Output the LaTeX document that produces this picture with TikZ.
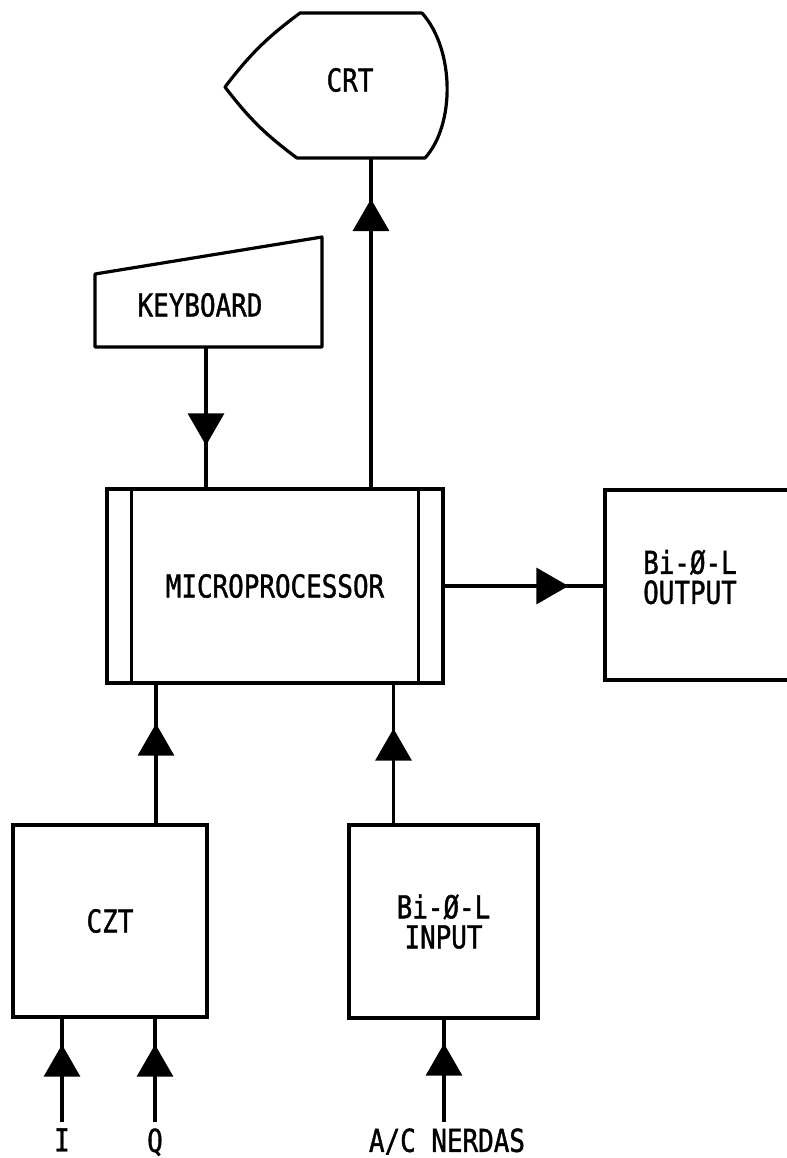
\documentclass[tikz,border=0pt]{standalone}
\usepackage{fontspec}
\newfontfamily\lettering[FakeStretch=0.82, FakeBold=1.2]{DejaVu Sans Mono}
\usepackage{tikz}
\usetikzlibrary{arrows.meta, decorations.markings}
\tikzset{
  box/.style={rectangle, draw, line width=1.6pt, align=center,
    font=\lettering\fontsize{15.8}{15}\selectfont},
  lbl/.style={inner sep=3pt, align=center,
    font=\lettering\fontsize{15.8}{15}\selectfont},
  outline/.style={line width=1.6pt, line join=round},
  flow/.style={line width=1.6pt,
    decoration={markings, mark=at position #1 with {\arrow{Triangle[length=16pt, width=18pt]}}},
    postaction={decorate}},
  flow/.default=-20pt
}

\begin{document}
\begin{tikzpicture}[x=0.5pt, y=-0.5pt]
  \useasboundingbox (0,0) rectangle (787,1158);
  \clip (0,0) rectangle (787,1158);

  % CRT display
  \draw[outline] (225,87) to[bend left=8] (300,13) -- (422,13)
    .. controls (455,50) and (455,125) .. (425,158) -- (297,158)
    to[bend left=8] cycle;
  \node[lbl] (crt) at (350,80) {CRT};
  \coordinate (crtin) at (371,158);

  % Keyboard (manual input)
  \draw[outline] (95,274) -- (322,237) -- (322,347) -- (95,347) -- cycle;
  \node[lbl] (kbd) at (200,305) {KEYBOARD};
  \coordinate (kbdout) at (206,347);

  % Microprocessor with side bars
  \node[box, minimum width=168pt, minimum height=97pt] (mp) at (275,586) {MICROPROCESSOR};
  \draw[outline] ([xshift=13pt]mp.north west) -- ([xshift=13pt]mp.south west);
  \draw[outline] ([xshift=-13pt]mp.north east) -- ([xshift=-13pt]mp.south east);

  % Output (runs off the page)
  \node[box, minimum width=97.5pt, minimum height=95pt] (out) at (702.5,585) {};
  \node[lbl] (outlbl) at (690,577) {Bi-Ø-L\\OUTPUT};

  % Inputs
  \node[box, minimum width=97pt, minimum height=96pt] (czt) at (110,921) {CZT};
  \node[box, minimum width=94.5pt, minimum height=96.5pt] (inp) at (443.5,921.5) {Bi-Ø-L\\INPUT};
  \node[lbl, anchor=north] (iin) at (62,1122) {I};
  \node[lbl, anchor=north] (qin) at (155,1122) {Q};
  \node[lbl, anchor=north] (acn) at (447,1122) {A/C NERDAS};

  % Connectors
  \draw[flow=-21pt] (kbdout) -- (kbdout |- mp.north);
  \draw[flow=-20.5pt] (crtin |- mp.north) -- (crtin);
  \draw[flow=-17.5pt] (mp.east) -- (mp.east -| out.west);
  \draw[flow=-19.5pt] ([xshift=23pt]czt.north) -- ([xshift=23pt]czt.north |- mp.south);
  \draw[flow=-22pt] ([xshift=-25pt]inp.north) -- ([xshift=-25pt]inp.north |- mp.south);
  \draw[flow=-13pt] (iin.north) -- (iin.north |- czt.south);
  \draw[flow=-13pt] (qin.north) -- (qin.north |- czt.south);
  \draw[flow=-12pt] ([xshift=-1.5pt]acn.north) -- ([xshift=-1.5pt]acn.north |- inp.south);
\end{tikzpicture}
\end{document}
